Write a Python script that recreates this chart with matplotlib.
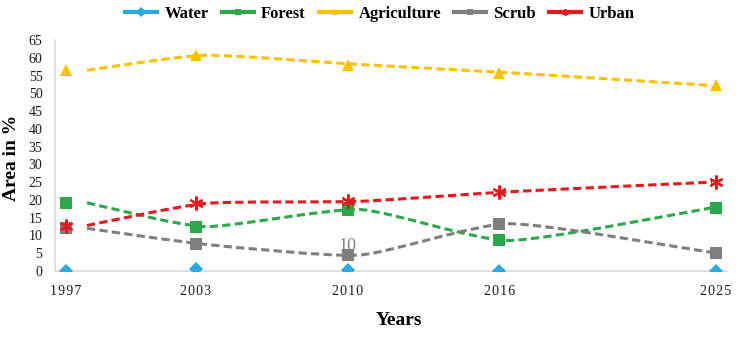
import numpy as np
import matplotlib
matplotlib.use("Agg")
import matplotlib.pyplot as plt
from matplotlib.path import Path
from matplotlib.patches import PathPatch
from matplotlib.lines import Line2D

plt.rcParams['font.family'] = ['Liberation Serif', 'DejaVu Serif']

#%%
# data (area in %)
years = ["1997", "2003", "2010", "2016", "2025"]
x_pos = [1997, 2003, 2010, 2017, 2027]   # where the points sit on the x axis
water = [0.1, 0.5, 0.4, 0.1, 0.1]
forest = [19.2, 12.5, 17.3, 8.6, 17.8]
agriculture = [56.5, 60.7, 58.1, 55.8, 52.2]
scrub = [12.0, 7.5, 4.5, 13.3, 5.2]
urban = [12.8, 19.0, 19.6, 22.3, 25.0]

# the dashed trend lines are drawn a bit to the right of the markers
line_shift = [0.97, 0.42, 0.55, 0.46, -0.18]

series = [
    ("Water", water, "#29ABE2", "D", 7, False),
    ("Forest", forest, "#2BA84A", "s", 8.5, True),
    ("Agriculture", agriculture, "#FFC000", "^", 9, True),
    ("Scrub", scrub, "#7F7F7F", "s", 8, True),
    ("Urban", urban, "#E8191E", (6, 2, 0), 10, True),
]


def smooth_path(xs, ys, k=0.1):
    # smoothed line (bezier through the points), low tension
    pts = np.column_stack([xs, ys])
    n = len(pts)
    verts = [pts[0]]
    codes = [Path.MOVETO]
    for i in range(n - 1):
        p0 = pts[max(i - 1, 0)]
        p1 = pts[i]
        p2 = pts[i + 1]
        p3 = pts[min(i + 2, n - 1)]
        verts += [p1 + (p2 - p0) * k, p2 - (p3 - p1) * k, p2]
        codes += [Path.CURVE4] * 3
    return Path(verts, codes)


#%%
fig = plt.figure(figsize=(7.54, 3.41), dpi=100)
ax = fig.add_axes([0.0729, 0.2053, 0.8912, 0.6774])

handles = []
for name, vals, col, mk, ms, has_line in series:
    if has_line:
        lx = np.array(x_pos) + np.array(line_shift)
        ax.add_patch(PathPatch(smooth_path(lx, vals), fill=False, ec=col, lw=2.2,
                               ls=(0, (2.7, 1.4)), capstyle="butt", zorder=2))
    mew = 1.6 if name == "Urban" else 0
    ax.plot(x_pos, vals, ls="none", marker=mk, ms=ms, color=col, mec=col,
            mew=mew, zorder=3)
    handles.append(Line2D([], [], color=col, lw=3, marker=mk, ms=5, mec=col,
                          mew=1.2 if name == "Urban" else 0))

ax.text(2010, 6.9, "10", ha="center", va="center", fontsize=13,
        color="#7F7F7F", zorder=4)

ax.set_xlim(1996.49, 2027.51)
ax.set_ylim(0, 65)
ax.set_yticks(range(0, 70, 5))
ax.set_xticks(x_pos)
ax.set_xticklabels(["\u200a".join(y) for y in years])
ax.tick_params(axis="both", length=0, labelsize=10, colors="#1a1a1a")
ax.tick_params(axis="x", pad=10)
ax.tick_params(axis="y", pad=9)

for s in ["top", "right"]:
    ax.spines[s].set_visible(False)
for s in ["left", "bottom"]:
    ax.spines[s].set_color("#D9D9D9")
    ax.spines[s].set_linewidth(1.2)

ax.set_xlabel("Years", fontsize=14, fontweight="bold")
ax.xaxis.set_label_coords(0.512, -0.177)
ax.xaxis.label.set_va("top")
ax.set_ylabel("Area in %", fontsize=14, fontweight="bold")
ax.yaxis.set_label_coords(-0.052, 0.49)

fig.legend(handles, [s[0] for s in series], loc="center",
           bbox_to_anchor=(0.504, 0.958), ncol=5, frameon=False,
           prop={"weight": "bold", "size": 12}, handlelength=1.9,
           handletextpad=0.45, columnspacing=0.8)

fig.savefig("out.png", dpi=100)
